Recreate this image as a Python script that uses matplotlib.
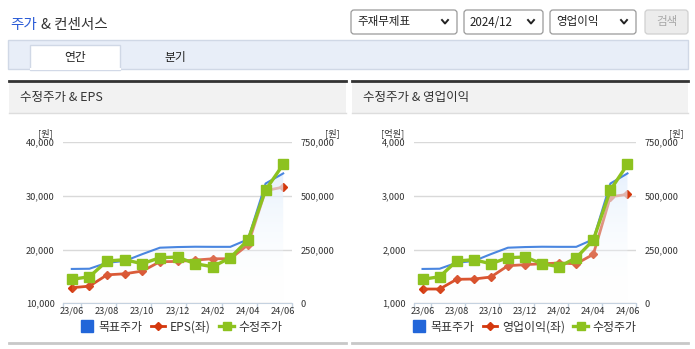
import matplotlib.pyplot as plt
import numpy as np
from matplotlib.patches import Rectangle, FancyBboxPatch, PathPatch
from matplotlib.lines import Line2D
from matplotlib.colors import LinearSegmentedColormap

plt.rcParams['font.family'] = ['Noto Sans CJK KR', 'DejaVu Sans']

# 데이터
months = ['23/06', '23/07', '23/08', '23/09', '23/10', '23/11', '23/12',
          '24/01', '24/02', '24/03', '24/04', '24/05', '24/06']
target_price = [160000, 161000, 189000, 197000, 229000, 259000, 262000,
                263500, 263000, 263000, 298000, 558000, 605000]
adj_price = [111700, 123800, 197000, 203000, 184400, 212300, 215600,
             184400, 170400, 212300, 294700, 527500, 647000]
eps = [12900, 13200, 15300, 15500, 16000, 17750, 17800,
       18050, 18300, 18300, 20900, 31000, 31650]
op_income = [1266, 1266, 1447, 1452, 1490, 1700, 1720,
             1737, 1750, 1737, 1912, 2985, 3030]

eps_ticks = [10000, 20000, 30000, 40000]
op_ticks = [1000, 2000, 3000, 4000]
price_ticks = [0, 250000, 500000, 750000]

W, H = 695, 349
BLUE = '#4a86e0'
BLUE_DARK = '#2266d9'
RED = '#d4380d'
GREEN = '#8dc21f'
AXC = '#c5d2e0'

fig = plt.figure(figsize=(W / 100, H / 100), dpi=100)

# 페이지 배경 (픽셀 좌표)
bg = fig.add_axes([0, 0, 1, 1])
bg.set_xlim(0, W)
bg.set_ylim(H, 0)
bg.axis('off')

t1 = bg.text(10, 25, '주가', color='#2a5bd7', fontsize=10.5, va='center')
renderer = fig.canvas.get_renderer()
t1_end = t1.get_window_extent(renderer).x1
bg.text(t1_end + 4, 25, '& 컨센서스', color='#333333', fontsize=10.5, va='center')

# 선택 박스
def dropdown(x0, x1, label):
    bg.add_patch(FancyBboxPatch((x0, 10), x1 - x0, 24, boxstyle='round,pad=0,rounding_size=3',
                                fc='white', ec='#9a9a9a', lw=0.9))
    bg.text(x0 + 6, 22, label, fontsize=8.3, va='center', color='#222222')
    cx = x1 - 12
    bg.plot([cx - 3, cx, cx + 3], [20, 23.5, 20], color='#222222', lw=1.4)

dropdown(351, 457, '주재무제표')
dropdown(464, 543, '2024/12')
dropdown(550, 636, '영업이익')
bg.add_patch(FancyBboxPatch((645, 10), 43, 24, boxstyle='round,pad=0,rounding_size=3',
                            fc='#ececec', ec='#d0d0d0', lw=0.9))
bg.text(666.5, 22, '검색', fontsize=8.3, va='center', ha='center', color='#a8a8a8')

# 탭
bg.add_patch(Rectangle((8, 40), 680, 29, fc='#e8eef8', ec='#d0d8e6', lw=1))
bg.add_patch(Rectangle((30, 45), 90, 25, fc='white', ec='#d0d8e6', lw=1))
bg.plot([30.5, 119.5], [69.2, 69.2], color='white', lw=1.5)
bg.text(75, 57, '연간', fontsize=8.5, ha='center', va='center', color='#222222')
bg.text(175, 57, '분기', fontsize=8.5, ha='center', va='center', color='#222222')

# 패널 머리
for x0, x1, title in [(9, 346, '수정주가 & EPS'), (352, 688, '수정주가 & 영업이익')]:
    bg.add_patch(Rectangle((x0, 81), x1 - x0, 32, fc='#f2f2f2', ec='none'))
    bg.plot([x0, x1], [81, 81], color='#333333', lw=2)
    bg.plot([x0, x1], [113, 113], color='#dddddd', lw=1)
    bg.plot([x0, x1], [343, 343], color='#c8c8c8', lw=2)
    bg.text(x0 + 11, 98, title, fontsize=9, va='center', color='#333333')

x = np.arange(len(months))
grad_cmap = LinearSegmentedColormap.from_list(
    'fade', [(1, 1, 1, 0.0), (0.86, 0.92, 0.99, 1.0)])


def make_chart(left_px, right_px, left_vals, left_ticks, left_label, left_unit, leg_x):
    top, bottom = 142.3, 303.3
    ax = fig.add_axes([left_px / W, 1 - bottom / H, (right_px - left_px) / W, (bottom - top) / H])
    ax2 = ax.twinx()

    # 왼쪽 축
    ax.set_ylim(left_ticks[0], left_ticks[-1])
    ax.set_yticks(left_ticks, labels=[f'{v:,}' for v in left_ticks])
    ax.yaxis.grid(True, color='#d9d9d9', lw=1)
    ax.set_axisbelow(True)
    ax.set_xlim(-0.5, len(months) - 0.5)
    ax.set_xticks([-0.5, 0.5, 2.5, 4.5, 6.5, 8.5, 10.5, 12.5], labels=[''] * 8)
    ax.set_xticks(x[::2], labels=months[::2], minor=True)
    ax.tick_params(axis='x', which='major', length=4, color=AXC, width=1)
    ax.tick_params(axis='x', which='minor', length=0, pad=2, labelsize=6.7, labelcolor='#333333')
    ax.tick_params(axis='y', length=0, pad=6, labelsize=6.7, labelcolor='#333333')
    for s in ['top', 'left', 'right']:
        ax.spines[s].set_visible(False)
    ax.spines['bottom'].set_color(AXC)
    ax.plot(x, left_vals, color=RED, lw=2, marker='D', ms=4.5, zorder=3)

    # 오른쪽 축 (주가)
    ax2.set_ylim(price_ticks[0], price_ticks[-1])
    ax2.set_yticks(price_ticks, labels=[f'{v:,}' for v in price_ticks])
    ax2.tick_params(axis='y', length=0, pad=6, labelsize=6.7, labelcolor='#333333')
    for s in ['top', 'left', 'right', 'bottom']:
        ax2.spines[s].set_visible(False)

    fill = ax2.fill_between(x, target_price, 0, color='none', lw=0)
    clip = PathPatch(fill.get_paths()[0], transform=ax2.transData, fc='none', ec='none')
    ax2.add_patch(clip)
    grad = np.linspace(0, 1, 256).reshape(-1, 1)
    im = ax2.imshow(grad, extent=[x[0], x[-1], 0, 750000], origin='lower',
                    aspect='auto', cmap=grad_cmap, zorder=0.5)
    im.set_clip_path(clip)
    ax2.set_xlim(-0.5, len(months) - 0.5)
    ax2.set_ylim(price_ticks[0], price_ticks[-1])

    ax2.plot(x, target_price, color=BLUE, lw=1.5, zorder=2)
    ax2.plot(x, adj_price, color=GREEN, lw=2.4, marker='s', ms=7, zorder=4)

    # 단위
    bg.text(left_px - 10, 133, left_unit, fontsize=6.7, ha='right', va='center', color='#333333')
    bg.text(right_px + 48, 133, '[원]', fontsize=6.7, ha='right', va='center', color='#333333')

    handles = [
        Line2D([], [], color=BLUE_DARK, marker='s', ms=8, lw=0),
        Line2D([], [], color=RED, marker='D', ms=4, lw=2),
        Line2D([], [], color=GREEN, marker='s', ms=6, lw=2.4),
    ]
    fig.legend(handles, ['목표주가', left_label, '수정주가'], loc='center',
               bbox_to_anchor=(leg_x / W, 1 - 327 / H), ncol=3, frameon=False,
               fontsize=8.6, handlelength=1.2, handletextpad=0.4, columnspacing=0.7,
               labelcolor='#333333')


make_chart(63, 292, eps, eps_ticks, 'EPS(좌)', '[원]', 181)
make_chart(414, 636, op_income, op_ticks, '영업이익(좌)', '[억원]', 524)

fig.savefig('out.png', dpi=100)
